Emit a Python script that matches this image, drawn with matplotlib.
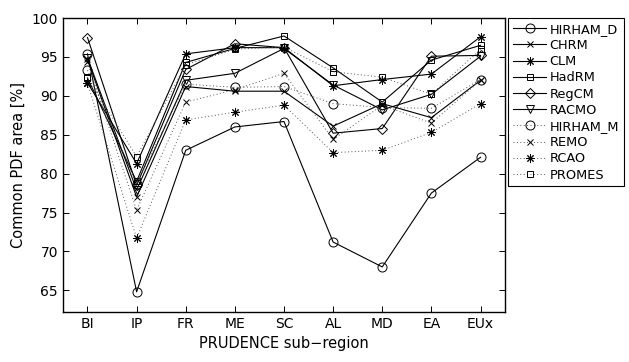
import matplotlib
matplotlib.use('Agg')
import matplotlib.pyplot as plt

regions = ['BI', 'IP', 'FR', 'ME', 'SC', 'AL', 'MD', 'EA', 'EUx']

hirham_d = [95.4, 64.8, 83.0, 86.0, 86.7, 71.2, 68.0, 77.5, 82.1]
chrm     = [94.7, 77.0, 91.2, 90.6, 90.6, 86.1, 89.0, 87.2, 92.0]
clm      = [91.7, 81.3, 95.4, 96.2, 96.2, 91.3, 92.1, 92.8, 97.6]
hadrm    = [92.3, 79.0, 94.3, 96.1, 97.7, 93.6, 89.2, 94.6, 96.5]
regcm    = [97.5, 78.5, 93.4, 96.7, 96.2, 85.2, 85.8, 95.1, 95.2]
racmo    = [94.9, 77.9, 92.0, 92.9, 96.1, 91.4, 88.2, 90.2, 95.1]
hirham_m = [93.3, 78.7, 91.5, 91.1, 91.2, 89.0, 88.5, 88.4, 92.1]
remo     = [94.3, 75.3, 89.2, 90.8, 92.9, 84.4, 88.8, 86.5, 92.0]
rcao     = [91.6, 71.7, 86.9, 87.9, 88.8, 82.7, 83.0, 85.3, 89.0]
promes   = [92.4, 82.2, 94.0, 96.0, 96.3, 93.1, 92.4, 90.2, 96.0]

names = ['HIRHAM_D', 'CHRM', 'CLM', 'HadRM', 'RegCM', 'RACMO',
         'HIRHAM_M', 'REMO', 'RCAO', 'PROMES']
series = [hirham_d, chrm, clm, hadrm, regcm, racmo,
          hirham_m, remo, rcao, promes]
asterisk = (8, 2, 0)
markers = ['o', 'x', asterisk, 's', 'D', 'v', 'o', 'x', asterisk, 's']
msizes = [6.5, 4, 6, 5, 5, 6, 6.5, 4, 6, 5]

fig = plt.figure(figsize=(6.29, 3.62), dpi=100)
ax = fig.add_axes([0.100, 0.138, 0.703, 0.812])

x = list(range(1, len(regions) + 1))
for i, (nm, vals) in enumerate(zip(names, series)):
    ls = '-' if i < 6 else (0, (1, 2.5))
    lw = 0.8 if i < 6 else 0.7
    col = 'black' if i < 6 else '#555555'
    ax.plot(x, vals, color=col, ls=ls, lw=lw, marker=markers[i],
            ms=msizes[i], mfc='none', mec='black', mew=0.7, label=nm)

ax.set_xlim(0.5, 9.5)
ax.set_ylim(62.2, 100)
ax.set_xticks(x)
ax.set_xticklabels(regions)
ax.set_yticks(range(65, 101, 5))
ax.tick_params(direction='in', top=True, right=True, labelsize=10, length=4, width=0.7)
for s in ax.spines.values():
    s.set_linewidth(1.0)
ax.set_xlabel('PRUDENCE sub\u2212region', fontsize=10.5)
ax.set_ylabel('Common PDF area [%]', fontsize=10.5)

leg = fig.legend(loc='upper left', bbox_to_anchor=(0.808, 0.950), fontsize=9.3,
                 frameon=True, fancybox=False, edgecolor='black', framealpha=1,
                 labelspacing=0.25, handlelength=2.6, handletextpad=0.25,
                 borderaxespad=0, borderpad=0.35)
leg.get_frame().set_linewidth(0.8)

fig.savefig('out.png', dpi=100)
